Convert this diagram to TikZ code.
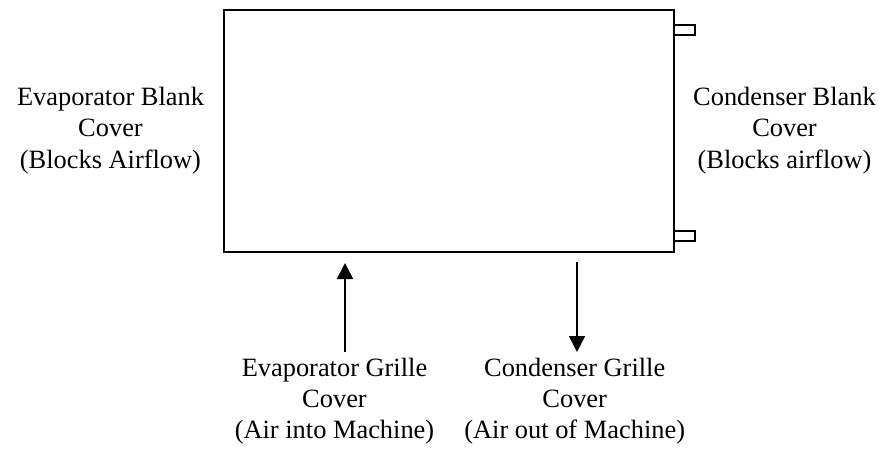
\documentclass[tikz,border=0pt]{standalone}
\usepackage{fontspec}
\setmainfont{Liberation Serif}
\usetikzlibrary{arrows.meta,positioning,calc}
\tikzset{
cabinet/.style = {draw, line width=1.5pt, fill=white, rectangle, inner sep=0pt, outer sep=0pt, minimum width=337.5pt, minimum height=182pt},
tab/.style = {draw, line width=1.5pt, fill=white, rectangle, inner sep=0pt, outer sep=0pt, minimum width=15.5pt, minimum height=7.5pt},
tmp/.style = {coordinate},
caption/.style = {align=center, font=\fontsize{19.8}{23.5}\selectfont, inner sep=0pt},
airflow/.style = {-{Triangle[length=12pt,width=12pt]}, line width=1.2pt}
}

\begin{document}
\begin{tikzpicture}[x=0.75pt, y=0.75pt, auto]
  \useasboundingbox (0,0) rectangle (888,454);
  \node [cabinet]                  (cabinet)   at (449.2,323) {};
  \node [tab, anchor=west]         (tabtop)    at ($(cabinet.north east)+(0,-20.5)$) {};
  \node [tab, anchor=west]         (tabbottom) at ($(cabinet.south east)+(0,16.5)$) {};

  \node [caption] (evapblank) at (110.5,323.5) {Evaporator Blank\\Cover\\(Blocks Airflow)};
  \node [caption] (condblank) at (784.5,323.5) {Condenser Blank\\Cover\\(Blocks airflow)};
  \node [caption] (evapgrille) at (334.5,53) {Evaporator Grille\\Cover\\(Air into Machine)};
  \node [caption] (condgrille) at (574.7,53) {Condenser Grille\\Cover\\(Air out of Machine)};

  \node [tmp] (tmp1) at (345,102) {};
  \node [tmp] (tmp2) at (345,191) {};
  \node [tmp] (tmp3) at (577,192) {};
  \node [tmp] (tmp4) at (577,102) {};

  \draw [airflow] (tmp1) -- (tmp2);
  \draw [airflow] (tmp3) -- (tmp4);
\end{tikzpicture}
\end{document}
